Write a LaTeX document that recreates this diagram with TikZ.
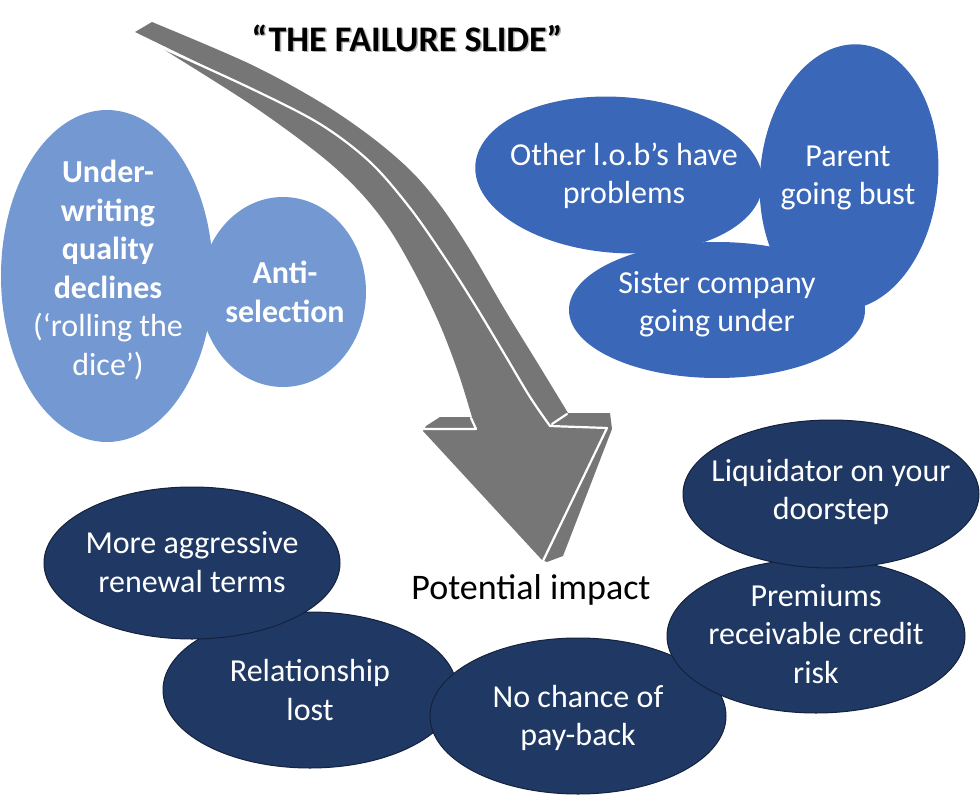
\documentclass[tikz,border=0pt]{standalone}
\usepackage{fontspec}
\setmainfont{Carlito}
\definecolor{lblue}{RGB}{116,152,210}
\definecolor{mblue}{RGB}{59,103,184}
\definecolor{dblue}{RGB}{31,56,100}
\definecolor{dborder}{RGB}{22,34,60}
\definecolor{agray}{RGB}{118,118,118}
\begin{document}
\begin{tikzpicture}[x=1pt,y=-1pt,
  wtxt/.style={text=white,align=center,font=\fontsize{32}{38.5}\selectfont,inner sep=0pt},
  btxt/.style={wtxt,font=\fontsize{32}{39}\selectfont\bfseries},
  dark/.style={fill=dblue,draw=dborder,line width=1pt},
  sep/.style={draw=white,line width=2.2pt,line join=round,line cap=round},
  sm/.style={smooth,tension=0.55}]
\useasboundingbox (0,0) rectangle (980,797);

% ---- curved 3D arrow ----
% side band + right wing + right side strip
\fill[agray] (135,32) -- (152,22)
  -- plot[sm] coordinates {(152,22) (250,64) (320,102) (370,136) (410,170) (440,205) (470,250) (505,310) (540,367) (568,413)}
  -- (610,413) -- (612,429) -- (563,556) -- (547,562) -- (542,560) -- (607,428) -- (550,426)
  -- plot[sm] coordinates {(550,426) (530,397) (505,355) (475,305) (445,258) (410,208) (370,162) (320,124) (250,88)}
  -- cycle;
% front face
\fill[agray] (158,46)
  -- plot[sm] coordinates {(158,46) (250,88) (320,124) (370,162) (410,208) (445,258) (475,305) (505,355) (530,397) (550,426)}
  -- (607,428) -- (542,560) -- (423,431) -- (426,426) -- (440,417) -- (472,417)
  -- plot[sm] coordinates {(472,417) (458,372) (440,325) (417,277) (390,230) (360,192) (320,155) (250,104) (158,46)}
  -- cycle;
% white edges
\draw[sep] plot[sm] coordinates {(158,46) (250,88) (320,124) (370,162) (410,208) (445,258) (475,305) (505,355) (530,397) (550,426)} -- (607,428) -- (543,561);
\draw[sep] (424,429) -- (476,429) -- (471,418);
\draw[sep] (552,424) -- (567,414);

% ---- title ----
\node[text=black!30,font=\fontsize{36}{40}\selectfont\bfseries] (titleshadow) at (408.5,39.5) {“THE FAILURE SLIDE”};
\node[text=black,font=\fontsize{36}{40}\selectfont\bfseries] (title) at (407,38) {“THE FAILURE SLIDE”};

% ---- left light-blue group ----
\fill[lblue] (107,276) ellipse [x radius=106, y radius=166];
\fill[lblue] (283,292) ellipse [x radius=83, y radius=95];
\node[wtxt] (under) at (108,270) {\textbf{Under-}\\\textbf{writing}\\\textbf{quality}\\\textbf{declines}\\(‘rolling the\\dice’)};
\node[btxt] (anti) at (285,292) {Anti-\\selection};

% ---- top-right blue group ----
\fill[mblue, rotate around={-4:(619,175)}] (619,175) ellipse [x radius=144, y radius=78];
\fill[mblue, rotate around={-5:(849,177)}] (849,177) ellipse [x radius=89, y radius=133];
\fill[mblue] (717,310) ellipse [x radius=148, y radius=68];
\node[wtxt] (other) at (624,176) {Other l.o.b’s have\\problems};
\node[wtxt] (parent) at (848,178) {Parent\\going bust};
\node[wtxt] (sister) at (717,304) {Sister company\\going under};

% ---- potential impact ----
\node[text=black,font=\fontsize{36}{40}\selectfont] (impact) at (531,590) {Potential impact};

% ---- dark impact ellipses ----
\path[dark] (310,690) ellipse [x radius=147, y radius=78];
\path[dark] (192,563) ellipse [x radius=148, y radius=76];
\path[dark] (578,716) ellipse [x radius=148, y radius=78];
\path[dark] (816,636) ellipse [x radius=149, y radius=77];
\path[dark] (831,494) ellipse [x radius=148, y radius=74];
\node[wtxt] (aggr) at (192,562) {More aggressive\\renewal terms};
\node[wtxt] (rel) at (310,690) {Relationship\\lost};
\node[wtxt] (nochance) at (578,718) {No chance of\\pay-back};
\node[wtxt] (prem) at (816,634) {Premiums\\receivable credit\\risk};
\node[wtxt] (liq) at (831,492) {Liquidator on your\\doorstep};
\end{tikzpicture}
\end{document}
